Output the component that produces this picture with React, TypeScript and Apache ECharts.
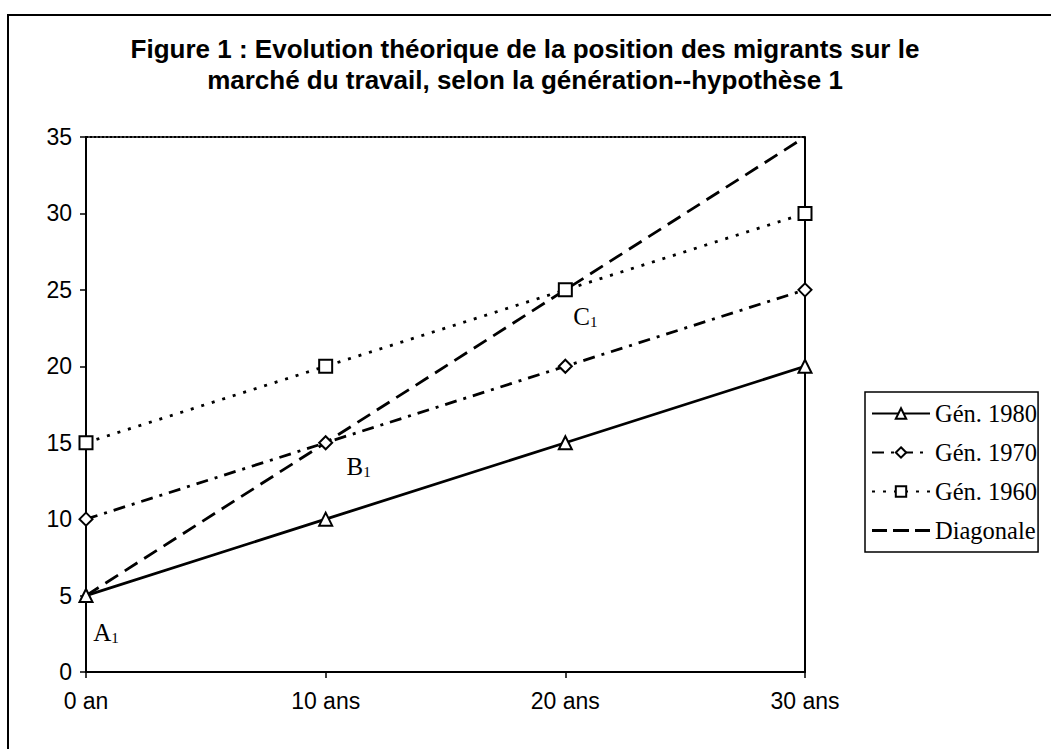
import React, { useEffect, useRef } from "react";
import * as echarts from "echarts";

const categories = ["0 an", "10 ans", "20 ans", "30 ans"];
const gen1980 = [5, 10, 15, 20];
const gen1970 = [10, 15, 20, 25];
const gen1960 = [15, 20, 25, 30];
const diagonale = [5, 15, 25, 35];
const annotations: [number, number, string, number, number][] = [
  [0, 5, "A", 20, 37],
  [1, 15, "B", 33, 24],
  [2, 25, "C", 20, 27],
];
const titleLines = [
  "Figure 1 : Evolution théorique de la position des migrants sur le",
  "marché du travail, selon la génération--hypothèse 1",
];

const serif = "'Liberation Serif', 'Times New Roman', serif";
const sans = "'Liberation Sans', Arial, sans-serif";
const dashIcon =
  "path://M0 0L0.1 0L0.1 0.1Z M0 12L0.1 12L0.1 11.9Z M0 4.6H15V7.4H0Z M21 4.6H37V7.4H21Z M43 4.6H58V7.4H43Z";

export default function App() {
  const ref = useRef<HTMLDivElement>(null);
  useEffect(() => {
    if (!ref.current) return;
    const chart = echarts.init(ref.current, undefined, { renderer: "svg" });
    const lineCommon = {
      type: "line" as const,
      symbolSize: 13,
      showAllSymbol: true,
      color: "#000",
    };
    chart.setOption({
      animation: false,
      backgroundColor: "#fff",
      graphic: [
        {
          type: "rect",
          shape: { x: 8, y: 15, width: 1060, height: 760 },
          style: { fill: "none", stroke: "#000", lineWidth: 2 },
          silent: true,
        },
        {
          type: "text",
          x: 525,
          y: 33,
          style: {
            text: titleLines.join("\n"),
            fontFamily: sans,
            fontWeight: "bold",
            fontSize: 26,
            lineHeight: 31,
            fill: "#000",
            align: "center",
          },
          silent: true,
        },
      ],
      legend: {
        orient: "vertical",
        left: 865,
        top: 392,
        itemWidth: 58,
        itemHeight: 13,
        itemGap: 14,
        padding: [9, 1, 9, 6],
        borderColor: "#000",
        borderWidth: 1.5,
        backgroundColor: "#fff",
        data: [
          "Gén. 1980",
          "Gén. 1970",
          "Gén. 1960",
          { name: "Diagonale", icon: dashIcon, itemStyle: { color: "#000", borderWidth: 0 } },
        ],
        textStyle: { fontFamily: serif, fontSize: 24.5, color: "#000" },
      },
      grid: { left: 86, right: 246, top: 137, bottom: 77, containLabel: false },
      xAxis: [
        {
          type: "category",
          data: categories,
          boundaryGap: false,
          axisLine: { lineStyle: { color: "#000", width: 2 } },
          axisTick: { show: true, length: 6, lineStyle: { color: "#000", width: 1.5 } },
          axisLabel: { fontFamily: sans, fontSize: 23, color: "#000", margin: 17 },
          splitLine: { show: false },
        },
        {
          type: "category",
          data: categories,
          boundaryGap: false,
          position: "top",
          axisLine: { show: true, onZero: false, lineStyle: { color: "#000", width: 2, type: [2, 2] } },
          axisTick: { show: false },
          axisLabel: { show: false },
        },
      ],
      yAxis: [
        {
          type: "value",
          min: 0,
          max: 35,
          interval: 5,
          axisLine: { show: true, lineStyle: { color: "#000", width: 2 } },
          axisTick: { show: true, length: 6, lineStyle: { color: "#000", width: 1.5 } },
          axisLabel: { fontFamily: sans, fontSize: 23, color: "#000", margin: 14 },
          splitLine: { show: false },
        },
        {
          type: "value",
          min: 0,
          max: 35,
          interval: 5,
          position: "right",
          axisLine: { show: true, onZero: false, lineStyle: { color: "#000", width: 2 } },
          axisTick: { show: false },
          axisLabel: { show: false },
          splitLine: { show: false },
        },
      ],
      series: [
        {
          ...lineCommon,
          name: "Gén. 1980",
          data: gen1980,
          symbol: "emptyTriangle",
          lineStyle: { color: "#000", width: 2.8, type: "solid" },
          itemStyle: { color: "#000", borderWidth: 2 },
        },
        {
          ...lineCommon,
          name: "Gén. 1970",
          data: gen1970,
          symbol: "emptyDiamond",
          lineStyle: { color: "#000", width: 2.8, type: [12, 7, 3, 7] },
          itemStyle: { color: "#000", borderWidth: 2 },
        },
        {
          ...lineCommon,
          name: "Gén. 1960",
          data: gen1960,
          symbol: "emptyRect",
          lineStyle: { color: "#000", width: 2.8, type: [3, 8] },
          itemStyle: { color: "#000", borderWidth: 2 },
        },
        {
          ...lineCommon,
          name: "Diagonale",
          data: diagonale,
          symbol: "none",
          lineStyle: { color: "#000", width: 2.8, type: [15, 8] },
          itemStyle: { color: "#000", borderWidth: 0 },
        },
        {
          type: "scatter",
          name: "annot",
          symbolSize: 1,
          itemStyle: { color: "rgba(0,0,0,0)", opacity: 1 },
          data: annotations.map(([x, y, t, dx, dy]) => ({
            value: [x, y],
            label: {
              show: true,
              position: "inside",
              offset: [dx, dy],
              color: "#000",
              opacity: 1,
              textBorderWidth: 0,
              formatter: `{a|${t}}{s|1}`,
              rich: {
                a: { fontFamily: serif, fontSize: 25, color: "#000", textBorderWidth: 0 },
                s: { fontFamily: serif, fontSize: 15, color: "#000", textBorderWidth: 0, padding: [10, 0, 0, 0] },
              },
            },
          })),
        },
      ],
    });
    return () => chart.dispose();
  }, []);
  return <div ref={ref} style={{ width: 1051, height: 749, position: "absolute", left: 0, top: 0 }} />;
}
